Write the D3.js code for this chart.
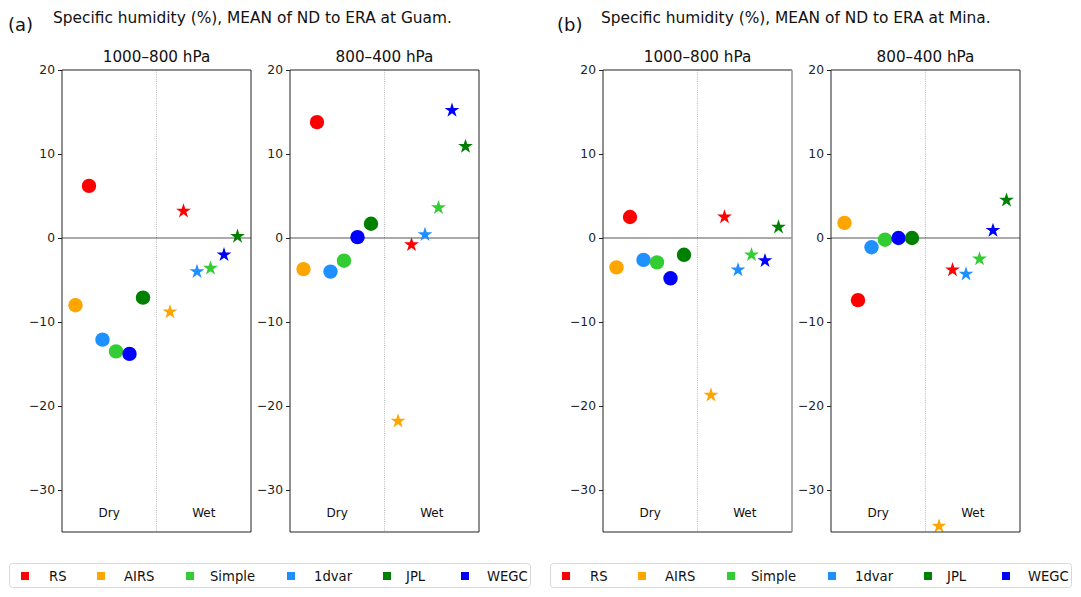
<!DOCTYPE html>
<html><head><meta charset="utf-8">
<script src="https://cdn.jsdelivr.net/npm/d3@7"></script>
<style>
html,body{margin:0;padding:0;background:#fff;}
svg text{font-family:"DejaVu Sans",sans-serif;}
</style></head>
<body>
<svg id="chart" width="1081" height="597"></svg>
<script>
// ---- data ----
const methods = ["AIRS", "RS", "1dvar", "Simple", "WEGC", "JPL"];      // plotting order along x
const methodColors = ["orange", "red", "dodgerblue", "limegreen", "blue", "green"];
const legendNames = ["RS", "AIRS", "Simple", "1dvar", "JPL", "WEGC"];
const legendColors = ["red", "orange", "limegreen", "dodgerblue", "green", "blue"];
const layers = ["1000–800 hPa", "800–400 hPa"];
const seasons = ["Dry", "Wet"];
const yTicks = [20, 10, 0, -10, -20, -30];

// values in %, order = methods
const guamLowDry = [-8.0, 6.2, -12.1, -13.5, -13.8, -7.1];
const guamLowWet = [-8.8, 3.2, -4.0, -3.6, -2.0, 0.2];
const guamMidDry = [-3.7, 13.8, -4.0, -2.7, 0.1, 1.7];
const guamMidWet = [-21.8, -0.8, 0.4, 3.6, 15.2, 10.9];
const minaLowDry = [-3.5, 2.5, -2.6, -2.9, -4.8, -2.0];
const minaLowWet = [-18.7, 2.5, -3.8, -2.0, -2.7, 1.3];
const minaMidDry = [1.8, -7.4, -1.1, -0.2, 0.0, 0.0];
const minaMidWet = [-34.3, -3.8, -4.3, -2.5, 0.9, 4.5];

const panels = [
  {tag: "(a)", title: "Specific humidity (%), MEAN of ND to ERA at Guam.", data: [[guamLowDry, guamLowWet], [guamMidDry, guamMidWet]]},
  {tag: "(b)", title: "Specific humidity (%), MEAN of ND to ERA at Mina.", data: [[minaLowDry, minaLowWet], [minaMidDry, minaMidWet]]}
];

// ---- layout ----
const svg = d3.select("#chart");
const panelOffsets = [0, 541];
const subLefts = [62, 290];
const subWidth = 189;
const plotTop = 70, plotBottom = 532;
const tagX = [8, 16], titleX = [53, 60];

const y = d3.scaleLinear().domain([-35, 20]).range([plotBottom, plotTop]);
const starPath = d3.symbol().type(d3.symbolStar).size(7.8 * 7.8 / 0.8908130915)();

panels.forEach((p, pi) => {
  const off = panelOffsets[pi];
  const g = svg.append("g").attr("transform", `translate(${off},0)`);
  g.append("text").attr("x", tagX[pi]).attr("y", 31).attr("font-size", 18).attr("fill", "#111").text(p.tag);
  g.append("text").attr("x", titleX[pi]).attr("y", 23).attr("font-size", 15.4).attr("fill", "#111").text(p.title);

  layers.forEach((layer, li) => {
    const left = subLefts[li];
    const x = d3.scaleLinear().domain([0, 14]).range([left, left + subWidth]);
    const sg = g.append("g");
    const clipId = `clip${pi}${li}`;
    sg.append("clipPath").attr("id", clipId).append("rect")
      .attr("x", left).attr("y", plotTop).attr("width", subWidth).attr("height", plotBottom - plotTop);

    sg.append("text").attr("x", left + subWidth / 2).attr("y", 62).attr("text-anchor", "middle")
      .attr("font-size", 15.2).attr("fill", "#111").text(layer);

    // divider
    sg.append("line").attr("x1", x(7)).attr("x2", x(7)).attr("y1", plotTop).attr("y2", plotBottom)
      .attr("stroke", "#aaa").attr("stroke-width", 0.8).attr("stroke-dasharray", "1,1.2");
    // zero line
    sg.append("line").attr("x1", left).attr("x2", left + subWidth).attr("y1", y(0)).attr("y2", y(0))
      .attr("stroke", "#444").attr("stroke-width", 0.9);

    // season labels
    seasons.forEach((s, si) => {
      sg.append("text").attr("x", x(si === 0 ? 3.5 : 10.5)).attr("y", 517).attr("text-anchor", "middle")
        .attr("font-size", 12).attr("fill", "#111").text(s);
    });

    // points
    const mg = sg.append("g").attr("clip-path", `url(#${clipId})`);
    p.data[li].forEach((vals, si) => {
      vals.forEach((v, mi) => {
        const cx = x(si === 0 ? mi + 1 : mi + 8), cy = y(v);
        if (si === 0) {
          mg.append("circle").attr("cx", cx).attr("cy", cy).attr("r", 7.2).attr("fill", methodColors[mi]);
        } else {
          mg.append("path").attr("d", starPath).attr("transform", `translate(${cx},${cy})`).attr("fill", methodColors[mi]);
        }
      });
    });

    // axis
    const ax = sg.append("g").attr("transform", `translate(${left},0)`)
      .call(d3.axisLeft(y).tickValues(yTicks).tickSize(4).tickPadding(3).tickFormat(d3.format("d")));
    ax.select(".domain").remove();
    ax.selectAll("line").attr("stroke", "#222");
    ax.selectAll("text").attr("font-size", 12.3).attr("fill", "#222").attr("font-family", "DejaVu Sans");

    // frame
    const frameColor = "#222";
    const odd = (pi === 1 && li === 0);
    sg.append("line").attr("x1", left).attr("x2", left).attr("y1", plotTop).attr("y2", plotBottom).attr("stroke", frameColor);
    sg.append("line").attr("x1", left).attr("x2", left + subWidth).attr("y1", plotTop).attr("y2", plotTop).attr("stroke", frameColor);
    sg.append("line").attr("x1", left).attr("x2", left + subWidth).attr("y1", plotBottom).attr("y2", plotBottom).attr("stroke", frameColor);
    sg.append("line").attr("x1", left + subWidth).attr("x2", left + subWidth).attr("y1", plotTop).attr("y2", plotBottom)
      .attr("stroke", odd ? "#999" : frameColor).attr("stroke-width", odd ? 1.6 : 1);
  });

  // legend
  const lg = g.append("g");
  lg.append("rect").attr("x", 9.5).attr("y", 563.5).attr("width", 521).attr("height", 24).attr("rx", 3)
    .attr("fill", "#fff").attr("stroke", "#d8d8d8");
  const markX = [25, 101, 190, 291, 387, 465];
  const textX = [49, 124, 210, 314, 406, 487];
  legendNames.forEach((n, i) => {
    lg.append("rect").attr("x", markX[i] - 4).attr("y", 572).attr("width", 8).attr("height", 8).attr("fill", legendColors[i]);
    lg.append("text").attr("x", textX[i]).attr("y", 580.5).attr("font-size", 13.2).attr("fill", "#111").text(n);
  });
});
</script>
</body></html>
